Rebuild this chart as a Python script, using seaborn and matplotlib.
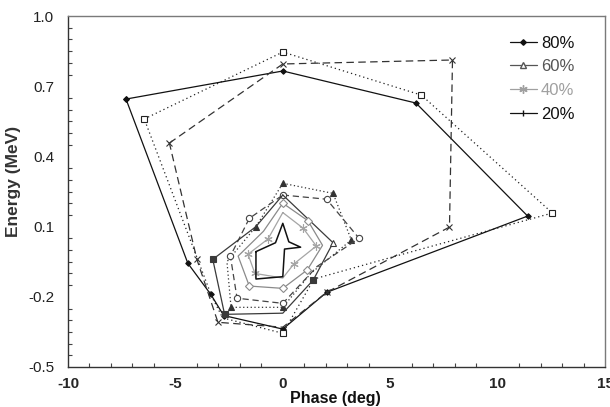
import matplotlib
matplotlib.use("Agg")
import matplotlib.pyplot as plt
from matplotlib.lines import Line2D
from matplotlib.ticker import MultipleLocator, FixedLocator
import seaborn as sns

sns.set_theme(style="white")
plt.rcParams['font.family'] = ['Liberation Sans', 'DejaVu Sans']

# ---------------- data (phase in deg, energy in MeV) ----------------
# outer contours
c80_phase = [-7.3, 0.0, 6.2, 11.4, 2.04, 0.0, -2.75, -3.35, -4.42, -7.3]
c80_energy = [0.645, 0.765, 0.628, 0.145, -0.181, -0.338, -0.28, -0.19, -0.057, 0.645]

sq_phase = [-6.45, 0.0, 6.45, 12.55, 5.3, 1.45, 0.0, -2.8, -3.3, -6.45]
sq_energy = [0.56, 0.846, 0.662, 0.158, -0.025, -0.124, -0.356, -0.29, -0.2, 0.56]

xm_phase = [-5.28, 0.0, 7.9, 7.76, 2.04, 0.0, -3.02, -4.0, -5.28]
xm_energy = [0.457, 0.795, 0.812, 0.098, -0.181, -0.33, -0.309, -0.04, 0.457]

# middle contours
tri_phase = [0.0, 2.34, 3.19, 1.3, 0.0, -2.41, -2.6, -1.25, 0.0]
tri_energy = [0.285, 0.242, 0.043, -0.1, -0.245, -0.245, -0.05, 0.1, 0.285]

circ_phase = [0.0, 2.04, 3.55, 1.6, 0.0, -2.13, -2.44, -1.56, 0.0]
circ_energy = [0.235, 0.217, 0.05, -0.07, -0.228, -0.206, -0.026, 0.135, 0.235]

c60_phase = [0.0, 2.34, 1.42, 0.0, -2.71, -3.26, -1.25, 0.0]
c60_energy = [0.235, 0.031, -0.128, -0.27, -0.275, -0.04, 0.1, 0.235]

# inner contours
dia_phase = [0.0, 1.17, 1.85, 1.14, 0.0, -1.56, -2.08, -0.9, 0.0]
dia_energy = [0.2, 0.125, 0.02, -0.085, -0.164, -0.154, -0.026, 0.08, 0.2]

c40_phase = [0.0, 0.95, 1.56, 0.51, 0.0, -1.3, -1.62, -0.69, 0.0]
c40_energy = [0.16, 0.093, 0.017, -0.06, -0.12, -0.1, -0.018, 0.047, 0.16]

c20_phase = [-1.25, -0.34, 0.0, 0.28, 0.83, 0.08, 0.0, -1.25, -1.25]
c20_energy = [-0.007, 0.031, 0.114, 0.035, 0.012, 0.004, -0.114, -0.124, -0.007]

legend_labels = ["80%", "60%", "40%", "20%"]
x_ticks = [-10, -5, 0, 5, 10, 15]
y_ticks = [-0.5, -0.2, 0.1, 0.4, 0.7, 1.0]

# ---------------- figure ----------------
fig = plt.figure(figsize=(6.1, 4.07), dpi=100)
ax = fig.add_axes([68 / 610, 1 - 367 / 407, 537 / 610, 351 / 407])


def curve(px, py, color, ls, marker=None, ms=4, mfc=None, lw=0.9, mev=None):
    kw = dict(x=px, y=py, sort=False, estimator=None, ax=ax, color=color,
              linestyle=ls, linewidth=lw, legend=False)
    if marker is not None:
        kw.update(marker=marker, markersize=ms,
                  markerfacecolor=color if mfc is None else mfc,
                  markeredgecolor=color, markeredgewidth=0.8)
        if mev is not None:
            kw.update(markevery=mev)
    sns.lineplot(**kw)


curve(c80_phase, c80_energy, "#111111", "-", "D", ms=2.8)
curve(sq_phase, sq_energy, "#222222", (0, (1, 2.4)), "s", ms=5, mfc="white",
      mev=[0, 1, 2, 3, 6])
curve(xm_phase, xm_energy, "#333333", (0, (6, 3.5)), "x", ms=5,
      mev=[0, 1, 2, 3, 4, 6, 7])
curve(tri_phase, tri_energy, "#333333", (0, (1, 2)), "^", ms=5,
      mev=[0, 1, 2, 4, 5, 7])
curve(circ_phase, circ_energy, "#444444", (0, (5, 3)), "o", ms=4.5, mfc="white",
      mev=[0, 1, 2, 4, 5, 6, 7])
curve(c60_phase, c60_energy, "#3a3a3a", "-", "s", ms=5, mev=[2, 4, 5])
curve(c60_phase, c60_energy, "#3a3a3a", "none", "^", ms=5, mfc="white", mev=[1])
curve(dia_phase, dia_energy, "#8a8a8a", "-", "D", ms=4, mfc="white",
      mev=[0, 1, 3, 4, 5])
curve(c40_phase, c40_energy, "#a5a5a5", "-", (6, 2, 0), ms=6,
      mev=[1, 2, 3, 5, 6, 7])
curve(c20_phase, c20_energy, "#111111", "-", None, lw=1.1)

# ---------------- axes styling ----------------
ax.set_xlim(-10, 15)
ax.set_ylim(-0.5, 1.0)
ax.xaxis.set_major_locator(FixedLocator(x_ticks))
ax.yaxis.set_major_locator(FixedLocator(y_ticks))
ax.xaxis.set_minor_locator(MultipleLocator(1))
ax.yaxis.set_minor_locator(MultipleLocator(0.05))
ax.set_xticklabels([f"{v:g}" for v in x_ticks], fontsize=11, fontweight="bold")
ax.set_yticklabels([f"{v:.1f}" for v in y_ticks], fontsize=11, color="#222222")
ax.tick_params(which="major", direction="inout", length=8, width=0.9,
               color="#333333")
ax.tick_params(which="minor", direction="in", length=3, width=0.8,
               color="#444444", left=True, bottom=True)
ax.tick_params(axis="x", which="major", pad=3)
ax.tick_params(axis="y", which="major", pad=6)
ax.grid(False)

for side in ["left", "bottom"]:
    ax.spines[side].set_color("#333333")
    ax.spines[side].set_linewidth(1.0)
for side in ["top", "right"]:
    ax.spines[side].set_color("#7a7a7a")
    ax.spines[side].set_linewidth(1.0)

ax.set_xlabel("Phase (deg)", fontsize=11.5, fontweight="bold", color="#111111")
ax.xaxis.set_label_coords(0.497, -0.068)
ax.set_ylabel("Energy (MeV)", fontsize=12.5, fontweight="bold", color="#333333")
ax.yaxis.set_label_coords(-0.088, 0.53)

# ---------------- legend ----------------
handles = [
    Line2D([], [], color="#111111", lw=0.9, marker="D", ms=2.8),
    Line2D([], [], color="#555555", lw=0.9, marker="^", ms=5,
           markerfacecolor="white", markeredgecolor="#555555"),
    Line2D([], [], color="#a0a0a0", lw=0.9, marker=(6, 2, 0), ms=6),
    Line2D([], [], color="#111111", lw=0.9, marker="|", ms=4),
]
leg = ax.legend(handles, legend_labels, loc="upper left",
                bbox_to_anchor=(0.823, 0.944), frameon=False, fontsize=12,
                handlelength=1.6, handletextpad=0.25, labelspacing=0.52,
                borderpad=0, borderaxespad=0)
for txt, col in zip(leg.get_texts(), ["#111111", "#555555", "#a0a0a0", "#111111"]):
    txt.set_color(col)

fig.savefig("out.png", dpi=100)
